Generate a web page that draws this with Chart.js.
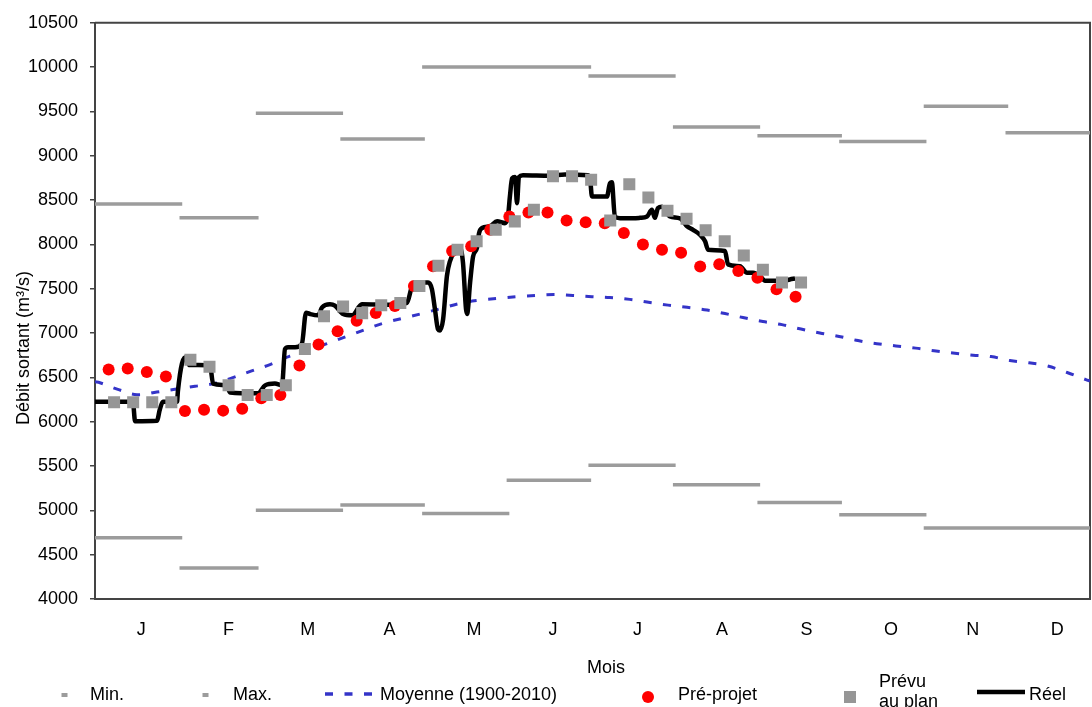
<!DOCTYPE html>
<html>
<head>
<meta charset="utf-8">
<script src="https://cdn.jsdelivr.net/npm/chart.js@4.4.1/dist/chart.umd.min.js"></script>
<style>
  html, body { margin: 0; padding: 0; background: #fff; }
  #wrap { width: 1092px; height: 707px; position: relative; overflow: hidden; }
</style>
</head>
<body>
<div id="wrap"><canvas id="chart" width="1092" height="707"></canvas></div>
<script>
// Month labels along the day-of-year axis
const monthLabels = ['J', 'F', 'M', 'A', 'M', 'J', 'J', 'A', 'S', 'O', 'N', 'D'];
const monthTickDays = [17, 49, 78, 108, 139, 168, 199, 230, 261, 292, 322, 353];
const monthStartDays = [0, 31, 59, 90, 120, 151, 181, 212, 243, 273, 304, 334, 365];

// Monthly extremes (m3/s)
const minValues = [4690, 4350, 5000, 5060, 4965, 5340, 5510, 5290, 5090, 4950, 4800, 4800];
const maxValues = [8455, 8300, 9480, 9190, 10000, 10000, 9900, 9325, 9225, 9160, 9560, 9260];

// Long-term mean 1900-2010
const moyenneDays = [0, 1.8, 8.4, 15.4, 22.7, 29.3, 36.7, 43.7, 50.3, 57.2, 64.2, 71.5, 85.1, 92.1, 98.7,
  105.6, 112.6, 119.9, 126.6, 133.9, 140.9, 147.5, 154.8, 161.4, 168.4, 175.3, 182.3, 188.9, 196.2,
  203.6, 210.2, 217.2, 224.5, 231.1, 237.7, 245.0, 252.0, 259.0, 265.9, 272.5, 279.9, 286.8, 293.8,
  301.1, 307.8, 314.7, 322.1, 328.7, 335.6, 342.6, 349.2, 356.6, 363.5, 365];
const moyenneValues = [6450, 6440, 6365, 6305, 6335, 6365, 6400, 6430, 6495, 6570, 6645, 6740, 6880, 6960, 7035,
  7110, 7165, 7220, 7275, 7335, 7370, 7390, 7410, 7425, 7435, 7425, 7410, 7400, 7380,
  7345, 7315, 7290, 7260, 7220, 7175, 7130, 7095, 7045, 7000, 6965, 6915, 6880, 6855,
  6830, 6800, 6775, 6750, 6735, 6690, 6665, 6630, 6555, 6475, 6460];

// Pre-project weekly flows
const preProjetDays = [5, 12, 19, 26, 33, 40, 47, 54, 61, 68, 75, 82, 89, 96, 103, 110, 117, 124, 131,
  138, 145, 152, 159, 166, 173, 180, 187, 194, 201, 208, 215, 222, 229, 236, 243, 250, 257];
const preProjetValues = [6590, 6600, 6560, 6510, 6120, 6135, 6125, 6145, 6265, 6300, 6635, 6870, 7020, 7140,
  7225, 7305, 7530, 7755, 7925, 7980, 8165, 8315, 8360, 8360, 8270, 8250, 8240, 8130, 8000,
  7940, 7905, 7750, 7775, 7700, 7625, 7495, 7410];

// Planned weekly flows
const prevuDays = [7, 14, 21, 28, 35, 42, 49, 56, 63, 70, 77, 84, 91, 98, 105, 112, 119, 126, 133,
  140, 147, 154, 161, 168, 175, 182, 189, 196, 203, 210, 217, 224, 231, 238, 245, 252, 259];
const prevuValues = [6220, 6220, 6220, 6220, 6700, 6620, 6410, 6300, 6300, 6410, 6820, 7190, 7300, 7225,
  7315, 7340, 7530, 7760, 7940, 8035, 8165, 8260, 8390, 8770, 8770, 8730, 8270, 8680, 8530,
  8380, 8290, 8160, 8035, 7875, 7715, 7570, 7570];

// Observed outflow
const reelDays = [0, 13.9, 14.7, 22.7, 23.8, 24.9, 30.1, 30.4, 31.9, 33.7, 34.5, 42.2, 43.3, 48.4, 49.5,
  59.8, 62.4, 66, 68.6, 69.7, 70.8, 73.4, 75.9, 77.4, 78.9, 81.8, 83.3, 86.2, 88, 91, 94.3, 97.9,
  109.3, 114.4, 116.3, 117.4, 122.2, 123.6, 124.7, 125.8, 126.6, 127.7, 129.1, 130.2, 132.1, 133.9,
  135, 136.1, 136.5, 137.6, 138.7, 140.1, 140.9, 142, 144.9, 147.5, 150.4, 151.5, 152.2, 153, 154.1,
  154.8, 155.5, 157, 166.9, 172.4, 180.8, 181.6, 182.3, 187.8, 188.9, 189.6, 190.7, 192.6, 197.4,
  199.9, 202.5, 204.3, 205.4, 206.5, 208, 210.9, 214.6, 217.2, 219.4, 221.9, 223.8, 224.9, 231.1,
  232.2, 236.6, 239.2, 241.4, 243.9, 245.8, 252.4, 254.9, 256.8];
const reelValues = [6225, 6225, 6005, 6010, 6140, 6225, 6225, 6340, 6655, 6730, 6640, 6635, 6430, 6410, 6330,
  6320, 6410, 6430, 6410, 6820, 6840, 6840, 6880, 7230, 7215, 7200, 7290, 7325, 7310, 7215, 7200, 7325,
  7320, 7340, 7530, 7570, 7570, 7495, 7270, 7045, 7030, 7155, 7645, 7810, 7925, 7960,
  7790, 7270, 7215, 7570, 7865, 7960, 8130, 8185, 8205, 8260, 8240, 8315, 8540, 8745, 8760,
  8465, 8760, 8780, 8775, 8790, 8780, 8745, 8540, 8540, 8690, 8700, 8315, 8295, 8295,
  8300, 8315, 8390, 8300, 8410, 8425, 8315, 8295, 8205, 8165, 8110, 8035, 7940, 7925,
  7775, 7755, 7680, 7680, 7645, 7590, 7590, 7605, 7615];

const toPoints = (xs, ys) => xs.map((x, i) => ({ x: x, y: ys[i] }));

// One flat segment per month, broken between months
function monthSegments(values) {
  const pts = [];
  values.forEach((v, i) => {
    const end = Math.min(monthStartDays[i + 1] + 1, 365);
    pts.push({ x: monthStartDays[i], y: v });
    pts.push({ x: end, y: v });
    if (i < values.length - 1) pts.push({ x: end, y: null });
  });
  return pts;
}

const FONT = '"Liberation Sans", Arial, Helvetica, sans-serif';
Chart.defaults.font.family = FONT;
Chart.defaults.font.size = 18;
Chart.defaults.color = '#000';

// Top and right edges of the plot frame
const framePlugin = {
  id: 'plotFrame',
  beforeDatasetsDraw(chart) {
    const { ctx, chartArea: a } = chart;
    ctx.save();
    ctx.strokeStyle = '#444';
    ctx.lineWidth = 2;
    ctx.beginPath();
    ctx.moveTo(a.left, a.top);
    ctx.lineTo(a.right, a.top);
    ctx.lineTo(a.right, a.bottom);
    ctx.stroke();
    ctx.restore();
  }
};

// Axis captions and the legend row under the chart
const captionPlugin = {
  id: 'captions',
  afterDraw(chart, args, opts) {
    const ctx = chart.ctx;
    const ds = chart.data.datasets;
    ctx.save();
    ctx.font = '18px ' + FONT;
    ctx.fillStyle = '#000';
    ctx.textBaseline = 'alphabetic';

    // y title
    ctx.save();
    ctx.translate(opts.yTitle.x, opts.yTitle.y);
    ctx.rotate(-Math.PI / 2);
    ctx.textAlign = 'center';
    ctx.fillText(opts.yTitle.text, 0, 0);
    ctx.restore();

    // x title
    ctx.textAlign = 'left';
    ctx.fillText(opts.xTitle.text, opts.xTitle.x, opts.xTitle.y);

    opts.legend.forEach(item => {
      const d = ds[item.dataset];
      const m = item.marker;
      ctx.save();
      if (m.kind === 'dash') {
        ctx.fillStyle = d.borderColor;
        ctx.fillRect(m.x - m.w / 2, m.y - m.h / 2, m.w, m.h);
      } else if (m.kind === 'line') {
        ctx.strokeStyle = d.borderColor;
        ctx.lineWidth = m.width;
        ctx.setLineDash(m.dash || []);
        ctx.beginPath();
        ctx.moveTo(m.x1, m.y);
        ctx.lineTo(m.x2, m.y);
        ctx.stroke();
      } else if (m.kind === 'circle') {
        ctx.fillStyle = d.pointBackgroundColor;
        ctx.beginPath();
        ctx.arc(m.x, m.y, m.r, 0, Math.PI * 2);
        ctx.fill();
      } else if (m.kind === 'square') {
        ctx.fillStyle = d.pointBackgroundColor;
        ctx.fillRect(m.x - m.s / 2, m.y - m.s / 2, m.s, m.s);
      }
      ctx.restore();
      item.lines.forEach((t, k) => {
        ctx.fillText(t, item.tx, item.ty + k * 20);
      });
    });
    ctx.restore();
  }
};

new Chart(document.getElementById('chart'), {
  type: 'line',
  data: {
    datasets: [
      { label: 'Min.', data: monthSegments(minValues), borderColor: '#9c9c9c', borderWidth: 3.5,
        borderCapStyle: 'butt', pointRadius: 0, order: 6 },
      { label: 'Max.', data: monthSegments(maxValues), borderColor: '#9c9c9c', borderWidth: 3.5,
        borderCapStyle: 'butt', pointRadius: 0, order: 6 },
      { label: 'Moyenne (1900-2010)', data: toPoints(moyenneDays, moyenneValues), borderColor: '#3434c8',
        borderWidth: 3, borderDash: [8, 11.5], pointRadius: 0, tension: 0.4, order: 5 },
      { label: 'Pré-projet', data: toPoints(preProjetDays, preProjetValues), showLine: false,
        pointRadius: 6, pointBackgroundColor: '#ff0000', pointBorderColor: '#ff0000', pointBorderWidth: 0, order: 2 },
      { label: 'Prévu au plan', data: toPoints(prevuDays, prevuValues), showLine: false, pointStyle: 'rect',
        pointRadius: 8.5, pointBackgroundColor: '#969696', pointBorderColor: '#969696', pointBorderWidth: 0, order: 1 },
      { label: 'Réel', data: toPoints(reelDays, reelValues), borderColor: '#000000', borderWidth: 4.5,
        pointRadius: 0, cubicInterpolationMode: 'monotone', borderJoinStyle: 'round', order: 3 }
    ]
  },
  options: {
    responsive: false,
    animation: false,
    devicePixelRatio: 1,
    layout: { autoPadding: false, padding: { left: 0, right: 2, top: 18, bottom: 0 } },
    plugins: {
      legend: { display: false },
      tooltip: { enabled: false },
      captions: {
        yTitle: { text: 'Débit sortant (m³/s)', x: 28.5, y: 348 },
        xTitle: { text: 'Mois', x: 587, y: 673 },
        legend: [
          { dataset: 0, marker: { kind: 'dash', x: 64.5, y: 695, w: 6, h: 4 }, lines: ['Min.'], tx: 90, ty: 700 },
          { dataset: 1, marker: { kind: 'dash', x: 205.5, y: 695, w: 6, h: 4 }, lines: ['Max.'], tx: 233, ty: 700 },
          { dataset: 2, marker: { kind: 'line', x1: 325, x2: 373, y: 694, width: 3.5, dash: [8, 11.5] },
            lines: ['Moyenne (1900-2010)'], tx: 380, ty: 700 },
          { dataset: 3, marker: { kind: 'circle', x: 648, y: 697, r: 6 }, lines: ['Pré-projet'], tx: 678, ty: 700 },
          { dataset: 4, marker: { kind: 'square', x: 850, y: 697, s: 12 }, lines: ['Prévu', 'au plan'], tx: 879, ty: 687 },
          { dataset: 5, marker: { kind: 'line', x1: 977, x2: 1025, y: 692, width: 4.5 }, lines: ['Réel'], tx: 1029, ty: 700 }
        ]
      }
    },
    scales: {
      x: {
        type: 'linear',
        min: 0,
        max: 365,
        afterBuildTicks: s => { s.ticks = monthTickDays.map(v => ({ value: v })); },
        afterFit: s => { s.height = 108; s.paddingLeft = 0; s.paddingRight = 0; },
        ticks: { autoSkip: false, maxRotation: 0, padding: 20, color: '#000',
          callback: (v, i) => monthLabels[i] },
        grid: { display: true, drawOnChartArea: false, drawTicks: false },
        border: { display: true, color: '#444', width: 2 }
      },
      y: {
        min: 4000,
        max: 10500,
        afterFit: s => { s.width = 95; },
        ticks: { stepSize: 500, padding: 12, color: '#000', callback: v => String(v) },
        grid: { display: true, drawOnChartArea: false, drawTicks: true, tickLength: 5, color: '#444', lineWidth: 1.5 },
        border: { display: true, color: '#444', width: 2 }
      }
    }
  },
  plugins: [framePlugin, captionPlugin]
});
</script>
</body>
</html>
